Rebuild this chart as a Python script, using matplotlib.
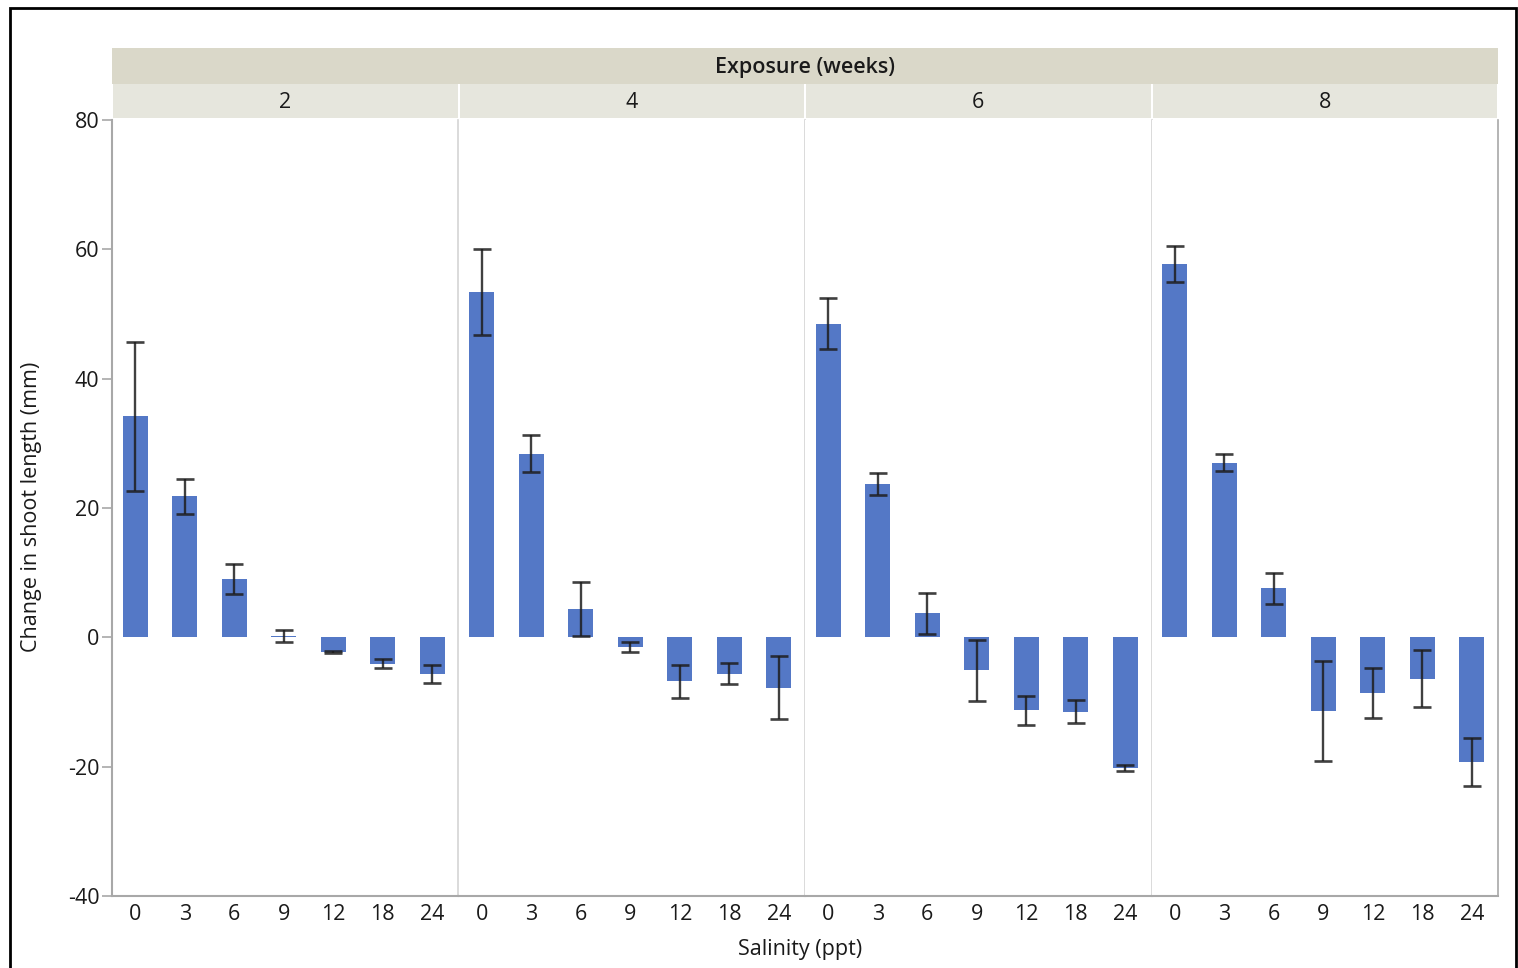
import matplotlib.pyplot as plt
from matplotlib.patches import Rectangle

plt.rcParams['font.family'] = ['Open Sans', 'DejaVu Sans']

# data
salinity = ['0', '3', '6', '9', '12', '18', '24']
exposure = ['2', '4', '6', '8']

means_wk2 = [34.2, 21.8, 9.0, 0.2, -2.3, -4.1, -5.7]
err_wk2 = [11.5, 2.7, 2.3, 0.9, 0.15, 0.7, 1.4]
means_wk4 = [53.4, 28.4, 4.4, -1.5, -6.8, -5.6, -7.8]
err_wk4 = [6.6, 2.85, 4.2, 0.8, 2.55, 1.6, 4.9]
means_wk6 = [48.5, 23.7, 3.7, -5.1, -11.3, -11.5, -20.2]
err_wk6 = [3.9, 1.7, 3.2, 4.75, 2.25, 1.8, 0.4]
means_wk8 = [57.7, 27.0, 7.6, -11.4, -8.6, -6.4, -19.3]
err_wk8 = [2.75, 1.35, 2.4, 7.8, 3.9, 4.45, 3.7]

all_means = [means_wk2, means_wk4, means_wk6, means_wk8]
all_errs = [err_wk2, err_wk4, err_wk6, err_wk8]

W, H = 1518, 968
fig = plt.figure(figsize=(W / 100, H / 100), dpi=100)

bar_color = '#5478c6'
grid_gray = '#d4d4d4'
axis_gray = '#a8a8a8'
text_col = '#1a1a1a'
fs = 15.5

# pixel layout
left, right, top, bottom = 112, 1498, 120, 896
pw = (right - left) / 4

def fx(px):
    return px / W

def fy(py):
    return 1 - py / H

# outer frame
fig.patches.append(Rectangle((fx(10), fy(968) - 0.01), fx(1506), fy(8) - fy(968) + 0.01,
                             transform=fig.transFigure, fill=False, ec='black', lw=2))

# header bands
fig.patches.append(Rectangle((fx(left), fy(84)), fx(right - left), fy(48) - fy(84),
                             transform=fig.transFigure, fc='#dad8c9', ec='none'))
fig.text(fx((left + right) / 2), fy(68), 'Exposure (weeks)', ha='center', va='center',
         fontsize=fs, fontweight='semibold', color=text_col)

x = list(range(len(salinity)))
for i, wk in enumerate(exposure):
    x0 = left + i * pw
    # panel label cell
    fig.patches.append(Rectangle((fx(x0 + 1), fy(118)), fx(pw - 2), fy(84) - fy(118),
                                 transform=fig.transFigure, fc='#e6e6dd', ec='none'))
    fig.text(fx(x0 + pw / 2), fy(102.5), wk, ha='center', va='center', fontsize=fs, color=text_col)

    ax = fig.add_axes([fx(x0), fy(bottom), fx(pw), fy(top) - fy(bottom)])
    ax.bar(x, all_means[i], width=0.5, color=bar_color, zorder=2)
    ax.errorbar(x, all_means[i], yerr=all_errs[i], fmt='none', ecolor='#1e1e1e',
                elinewidth=1.7, capsize=6.5, capthick=1.9, alpha=0.85, zorder=3)
    ax.set_xlim(-0.47, 6.53)
    ax.set_ylim(-40, 80)
    ax.set_xticks(x)
    ax.set_xticklabels(salinity, fontsize=fs, color=text_col)
    ax.tick_params(axis='x', length=0, pad=6)
    ax.spines['top'].set_visible(False)
    ax.spines['bottom'].set_color(axis_gray)
    ax.spines['bottom'].set_linewidth(1.5)
    ax.spines['right'].set_color(grid_gray if i < 3 else axis_gray)
    ax.spines['right'].set_linewidth(1.2)
    if i == 0:
        ax.set_yticks([-40, -20, 0, 20, 40, 60, 80])
        ax.set_yticklabels(['-40', '-20', '0', '20', '40', '60', '80'], fontsize=fs, color=text_col)
        ax.tick_params(axis='y', length=7, color=axis_gray, width=1.2, pad=2)
        ax.spines['left'].set_color(axis_gray)
        ax.spines['left'].set_linewidth(1.5)
    else:
        ax.set_yticks([])
        ax.spines['left'].set_visible(False)

fig.text(fx(32), fy(507), 'Change in shoot length (mm)', rotation=90,
         ha='center', va='center', fontsize=fs, color=text_col)
fig.text(fx(800), fy(950), 'Salinity (ppt)', ha='center', va='center', fontsize=fs, color=text_col)

fig.savefig('out.png', dpi=100)
